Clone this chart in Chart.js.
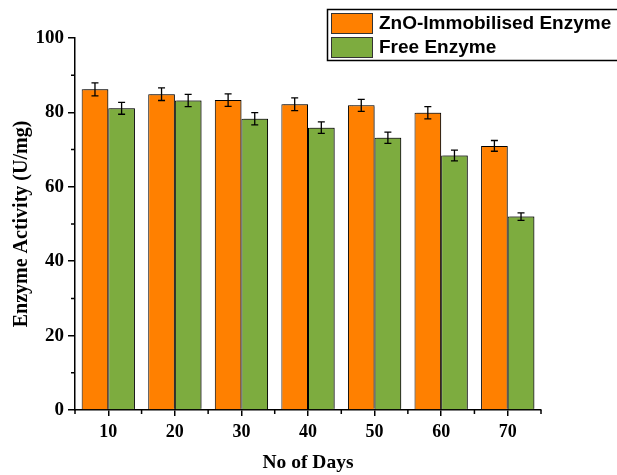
<!DOCTYPE html>
<html>
<head>
<meta charset="utf-8">
<script src="https://cdn.jsdelivr.net/npm/chart.js@4"></script>
<style>
  html, body { margin: 0; padding: 0; background: #fff; }
  #wrap { width: 617px; height: 475px; }
</style>
</head>
<body>
<div id="wrap"><canvas id="enzyme_chart" width="617" height="475"></canvas></div>
<script>
// data
const days = ['10', '20', '30', '40', '50', '60', '70'];
const zno_activity = [86.2, 84.9, 83.3, 82.2, 81.9, 79.9, 71.0];
const zno_error = [1.75, 1.7, 1.7, 1.7, 1.6, 1.65, 1.45];
const free_activity = [81.1, 83.2, 78.3, 75.9, 73.2, 68.4, 52.0];
const free_error = [1.6, 1.65, 1.65, 1.55, 1.5, 1.45, 1.0];
const y_ticks = [0, 20, 40, 60, 80, 100];
const y_minor = [10, 30, 50, 70, 90];

const serif = "'Liberation Serif', 'Times New Roman', serif";
const sans = "'Liberation Sans', Arial, sans-serif";

// shadow behind the bars
const barShadow = {
    id: 'barShadow',
    beforeDatasetsDraw(chart) {
        const ctx = chart.ctx;
        ctx.save();
        ctx.shadowColor = 'rgba(0,0,0,0.35)';
        ctx.shadowOffsetX = 2;
        ctx.shadowOffsetY = -1;
        ctx.shadowBlur = 1;
    },
    afterDatasetsDraw(chart) {
        chart.ctx.restore();
    }
};

// error bars + minor ticks + legend box
const extras = {
    id: 'extras',
    afterDatasetsDraw(chart) {
        const ctx = chart.ctx;
        const y = chart.scales.y;
        const errs = [zno_error, free_error];
        ctx.save();
        ctx.strokeStyle = '#000';
        ctx.lineWidth = 1.3;
        chart.data.datasets.forEach(function (ds, di) {
            const meta = chart.getDatasetMeta(di);
            meta.data.forEach(function (bar, i) {
                const v = ds.data[i];
                const e = errs[di][i];
                const top = y.getPixelForValue(v + e);
                const bot = y.getPixelForValue(v - e);
                ctx.beginPath();
                ctx.moveTo(bar.x, top);
                ctx.lineTo(bar.x, bot);
                ctx.moveTo(bar.x - 3.5, top);
                ctx.lineTo(bar.x + 3.5, top);
                ctx.moveTo(bar.x - 3.5, bot);
                ctx.lineTo(bar.x + 3.5, bot);
                ctx.stroke();
            });
        });
        ctx.restore();
    },
    afterDraw(chart) {
        const ctx = chart.ctx;
        const x = chart.scales.x;
        const y = chart.scales.y;
        const area = chart.chartArea;
        ctx.save();
        ctx.strokeStyle = '#000';
        ctx.lineWidth = 1.5;
        ctx.beginPath();
        y_minor.forEach(function (v) {
            const py = y.getPixelForValue(v);
            ctx.moveTo(area.left - 4, py);
            ctx.lineTo(area.left, py);
        });
        for (let i = 0; i <= days.length; i++) {
            const px = x.getPixelForValue(i - 0.5);
            ctx.moveTo(px, area.bottom);
            ctx.lineTo(px, area.bottom + 4);
        }
        ctx.stroke();

        // legend
        ctx.lineWidth = 1.5;
        ctx.strokeRect(327.5, 9.5, 320, 51);
        const rows = [[13, 0], [37, 1]];
        rows.forEach(function (r) {
            const ds = chart.data.datasets[r[1]];
            ctx.fillStyle = ds.backgroundColor;
            ctx.fillRect(331, r[0], 42, 21);
            ctx.lineWidth = 1;
            ctx.strokeStyle = '#333';
            ctx.strokeRect(331.5, r[0] + 0.5, 41, 20);
            ctx.fillStyle = '#000';
            ctx.font = 'bold 19px ' + sans;
            ctx.textBaseline = 'middle';
            ctx.fillText(ds.label, 379, r[0] + 11);
        });
        ctx.restore();
    }
};

const ctx = document.getElementById('enzyme_chart').getContext('2d');
const myChart = new Chart(ctx, {
    type: 'bar',
    data: {
        labels: days,
        datasets: [{
            label: 'ZnO-Immobilised Enzyme',
            data: zno_activity,
            backgroundColor: '#ff8000',
            borderColor: '#000',
            borderWidth: 1
        }, {
            label: 'Free Enzyme',
            data: free_activity,
            backgroundColor: '#7dac3f',
            borderColor: '#000',
            borderWidth: 1
        }]
    },
    options: {
        responsive: false,
        animation: false,
        layout: { padding: { top: 38, right: 76, left: 0, bottom: 0 } },
        categoryPercentage: 0.8,
        barPercentage: 1.0,
        plugins: {
            legend: { display: false },
            tooltip: { enabled: false }
        },
        scales: {
            x: {
                grid: { offset: false, drawOnChartArea: false, tickLength: 6, color: '#000', lineWidth: 1.5 },
                border: { color: '#000', width: 1.5 },
                ticks: { color: '#000', font: { family: serif, size: 18, weight: 'bold' }, padding: 6 },
                title: { display: true, text: 'No of Days', color: '#000', font: { family: serif, size: 19.5, weight: 'bold' }, padding: { top: 12, bottom: 0 } },
                afterFit(scale) { scale.height = 65; }
            },
            y: {
                min: 0,
                max: 100,
                afterBuildTicks(scale) { scale.ticks = y_ticks.map(v => ({ value: v })); },
                grid: { drawOnChartArea: false, tickLength: 7, color: '#000', lineWidth: 1.5 },
                border: { color: '#000', width: 1.5 },
                ticks: { color: '#000', font: { family: serif, size: 19, weight: 'bold' }, padding: 4 },
                title: { display: true, text: 'Enzyme Activity (U/mg)', color: '#000', font: { family: serif, size: 20, weight: 'bold' }, padding: { top: 10, bottom: 4 } },
                afterFit(scale) { scale.width = 75; }
            }
        }
    },
    plugins: [barShadow, extras]
});
</script>
</body>
</html>
